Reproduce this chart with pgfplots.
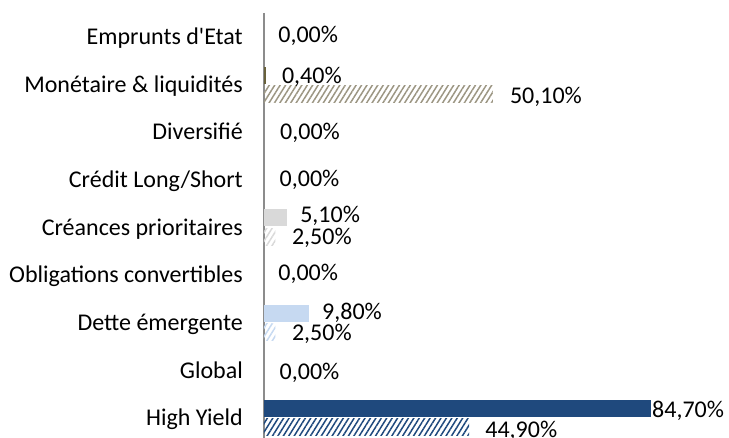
\documentclass[border=0pt]{standalone}
\usepackage{pgfplots}
\pgfplotsset{compat=1.18}
\usetikzlibrary{patterns.meta}
\usepackage{fontspec}
\setmainfont{Carlito}[Ligatures=TeXOff]
\definecolor{hy}{HTML}{1F497D}
\definecolor{de}{HTML}{C6D9F1}
\definecolor{cp}{HTML}{D9D9D9}
\definecolor{mo}{HTML}{948A54}
\definecolor{moh}{HTML}{9C9683}
\definecolor{axl}{HTML}{8C8C8C}
\begin{document}
\begin{tikzpicture}[x=1pt,y=1pt]
\useasboundingbox (0,0) rectangle (729,438);
\begin{axis}[
  at={(264pt,425pt)}, anchor=north west,
  scale only axis, width=457pt, height=425pt,
  xmin=0, xmax=100, ymin=-0.504, ymax=8.424, y dir=reverse,
  axis x line=none, axis y line*=left,
  y axis line style={-, draw=axl, line width=1.6pt},
  ytick={0,...,8}, major tick length=0pt,
  yticklabels={Emprunts d'Etat, Monétaire \& liquidités, Diversifié, Crédit Long/Short, Créances prioritaires, Obligations convertibles, Dette émergente, Global, High Yield},
  yticklabel style={anchor=base east, inner sep=0pt, xshift=-21pt, yshift=-7.8pt, font=\fontsize{24}{28}\selectfont, text=black},
  clip=false,
  bar width=0.36,
]
% solid series
\addplot[xbar, bar shift=0pt, fill=mo!70!black, draw=none] coordinates {(0.4,0.8)};
\addplot[xbar, bar shift=0pt, fill=cp, draw=none] coordinates {(5.1,3.8)};
\addplot[xbar, bar shift=0pt, fill=de, draw=none] coordinates {(9.8,5.8)};
\addplot[xbar, bar shift=0pt, fill=hy, draw=none] coordinates {(84.7,7.8)};
% hatched series
\addplot[xbar, bar shift=0pt, draw=none, pattern={Lines[angle=58,distance=4.6pt,line width=1.5pt]}, pattern color=moh] coordinates {(50.1,1.2)};
\addplot[xbar, bar shift=0pt, draw=none, pattern={Lines[angle=58,distance=4.6pt,line width=1.5pt]}, pattern color=cp] coordinates {(2.5,4.2)};
\addplot[xbar, bar shift=0pt, draw=none, pattern={Lines[angle=58,distance=4.6pt,line width=1.5pt]}, pattern color=de] coordinates {(2.5,6.2)};
\addplot[xbar, bar shift=0pt, draw=none, pattern={Lines[angle=58,distance=4.6pt,line width=1.5pt]}, pattern color=hy] coordinates {(44.9,8.2)};
% value labels
\addplot[draw=none, mark=none, nodes near coords, point meta=explicit symbolic,
  nodes near coords style={anchor=base west, inner sep=0pt, yshift=-7.8pt, font=\fontsize{24}{28}\selectfont, text=black}]
  table[meta=lab, row sep=\\] {
  x y lab\\
  3.1 -0.05 0,00\%\\
  3.9 0.82 0,40\%\\
  53.8 1.24 50,10\%\\
  3.5 2 0,00\%\\
  3.4 2.97 0,00\%\\
  7.9 3.74 5,10\%\\
  6.1 4.2 2,50\%\\
  3.1 4.96 0,00\%\\
  12.7 5.78 9,80\%\\
  6.1 6.22 2,50\%\\
  3.4 7.03 0,00\%\\
  84.9 7.84 84,70\%\\
  48.4 8.25 44,90\%\\
  };
\end{axis}
\end{tikzpicture}
\end{document}
